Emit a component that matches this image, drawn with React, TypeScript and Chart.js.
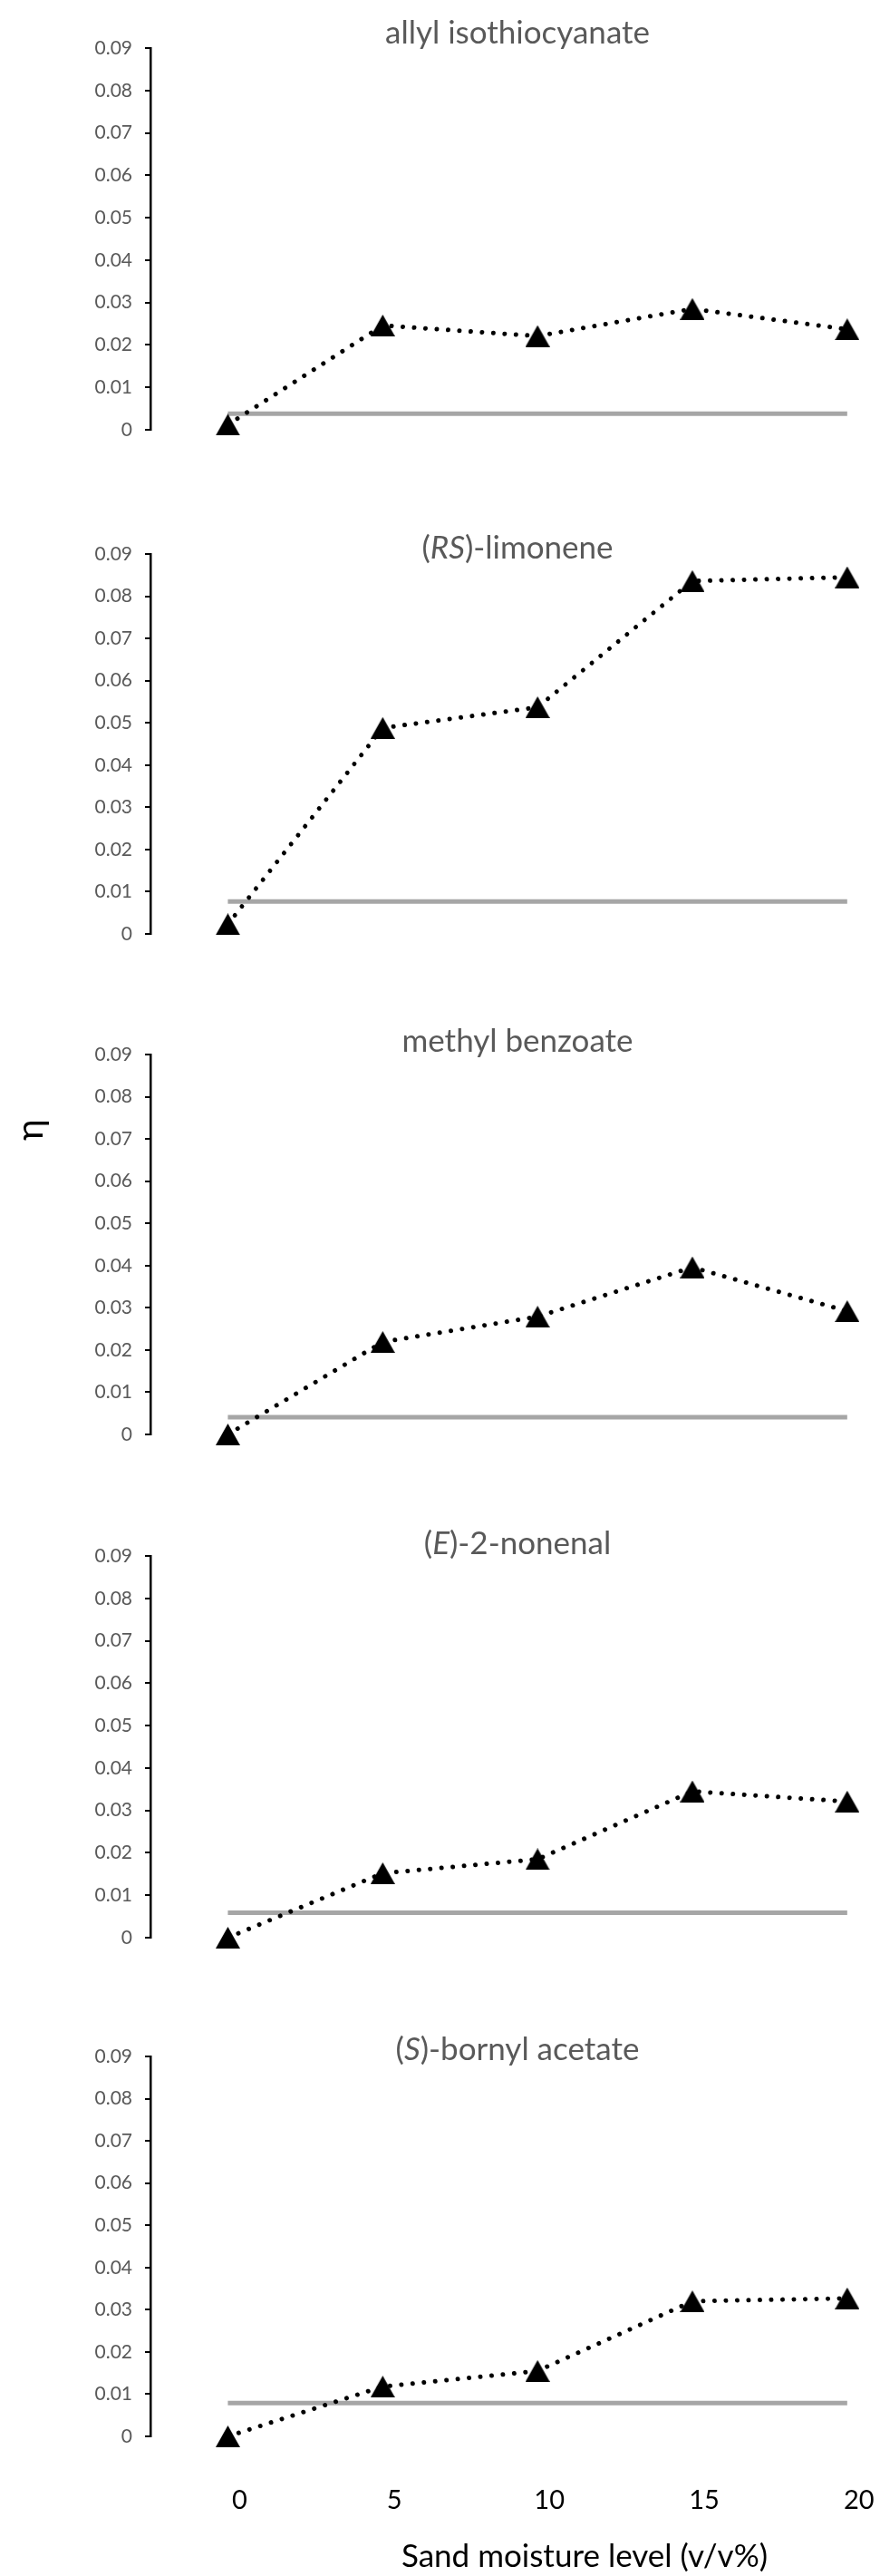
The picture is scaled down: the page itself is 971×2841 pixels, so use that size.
import React, { useEffect, useRef } from 'react';
import { Chart, registerables } from 'chart.js';

Chart.register(...registerables);

// ---------- data ----------
const moisture = [0, 5, 10, 15, 20];
const xTickValues = [0, 5, 10, 15, 20];

const allylIsothiocyanate = [0.0012, 0.0246, 0.0221, 0.0285, 0.0237];
const rsLimonene = [0.0023, 0.0488, 0.0537, 0.0836, 0.0845];
const methylBenzoate = [0.0, 0.0219, 0.0279, 0.0396, 0.0292];
const eNonenal = [0.0, 0.0152, 0.0185, 0.0345, 0.0321];
const sBornylAcetate = [0.0, 0.0118, 0.0155, 0.032, 0.0327];

const controlLevels = [0.0038, 0.0077, 0.0041, 0.0059, 0.0079];

const seriesList = [allylIsothiocyanate, rsLimonene, methylBenzoate, eNonenal, sBornylAcetate];

type Seg = { text: string; italic: boolean };
const titleAllyl: Seg[] = [{ text: 'allyl isothiocyanate', italic: false }];
const titleLimonene: Seg[] = [
  { text: '(', italic: false },
  { text: 'RS', italic: true },
  { text: ')-limonene', italic: false },
];
const titleBenzoate: Seg[] = [{ text: 'methyl benzoate', italic: false }];
const titleNonenal: Seg[] = [
  { text: '(', italic: false },
  { text: 'E', italic: true },
  { text: ')-2-nonenal', italic: false },
];
const titleBornyl: Seg[] = [
  { text: '(', italic: false },
  { text: 'S', italic: true },
  { text: ')-bornyl acetate', italic: false },
];
const titles = [titleAllyl, titleLimonene, titleBenzoate, titleNonenal, titleBornyl];

const yAxisLabel = 'η';
const xAxisLabel = 'Sand moisture level (v/v%)';

const Y_MIN = 0;
const Y_MAX = 0.09;
const Y_STEP = 0.01;
const X_MIN = -2.5;
const X_MAX = 21;

// ---------- layout ----------
const PAGE_W = 971;
const PAGE_H = 2841;
const axisTops = [53, 611, 1163, 1716, 2268];
const axisBottoms = [474, 1030, 1582, 2137, 2687];
const titleBaselines = [48, 616, 1160, 1714, 2272];
const TOP_MARGIN = 53;
const BOTTOM_MARGIN = 30;
const AXIS_LEFT = 166;
const TITLE_CX = 571;
const FONT = 'Lato, "Open Sans", sans-serif';

function makeTriangle(): HTMLCanvasElement {
  const c = document.createElement('canvas');
  c.width = 27;
  c.height = 24;
  const g = c.getContext('2d')!;
  g.fillStyle = '#000';
  g.beginPath();
  g.moveTo(0, 24);
  g.lineTo(13.5, 0);
  g.lineTo(27, 24);
  g.closePath();
  g.fill();
  return c;
}

function Panel({ i }: { i: number }) {
  const ref = useRef<HTMLCanvasElement>(null);
  const isLast = i === seriesList.length - 1;
  const canvasTop = axisTops[i] - TOP_MARGIN;
  const canvasH = isLast ? PAGE_H - canvasTop : axisBottoms[i] - canvasTop + BOTTOM_MARGIN;

  useEffect(() => {
    if (!ref.current) return;
    const tri = makeTriangle();
    const series = seriesList[i];
    const textPlugin = {
      id: 'panelText' + i,
      afterDraw(chart: any) {
        const ctx = chart.ctx as CanvasRenderingContext2D;
        ctx.save();
        const size = 35;
        const segs = titles[i];
        const widths = segs.map((s) => {
          ctx.font = `${s.italic ? 'italic ' : ''}${size}px ${FONT}`;
          return ctx.measureText(s.text).width;
        });
        const total = widths.reduce((a, b) => a + b, 0);
        let x = TITLE_CX - total / 2;
        ctx.fillStyle = '#595959';
        ctx.textBaseline = 'alphabetic';
        ctx.textAlign = 'left';
        segs.forEach((s, k) => {
          ctx.font = `${s.italic ? 'italic ' : ''}${size}px ${FONT}`;
          ctx.fillText(s.text, x, titleBaselines[i] - canvasTop);
          x += widths[k];
        });
        if (i === 2) {
          ctx.save();
          ctx.translate(34, 1246 - canvasTop);
          ctx.rotate(-Math.PI / 2);
          ctx.font = `40px ${FONT}`;
          ctx.fillStyle = '#000';
          ctx.textAlign = 'center';
          ctx.textBaseline = 'middle';
          ctx.fillText(yAxisLabel, 0, 0);
          ctx.restore();
        }
        if (isLast) {
          ctx.font = `35px ${FONT}`;
          ctx.fillStyle = '#000';
          ctx.textAlign = 'center';
          ctx.textBaseline = 'alphabetic';
          ctx.fillText(xAxisLabel, 645, 2831 - canvasTop);
        }
        ctx.restore();
      },
    };

    const chart = new Chart(ref.current, {
      type: 'line',
      data: {
        datasets: [
          {
            data: moisture.map((x, k) => ({ x, y: series[k] })),
            borderColor: '#000',
            borderWidth: 5,
            borderDash: [0.01, 12.5],
            borderCapStyle: 'round',
            pointStyle: tri as any,
            pointRadius: 12,
            pointBackgroundColor: '#000',
            pointBorderWidth: 0,
            tension: 0,
            fill: false,
            clip: false as any,
          },
          {
            data: [
              { x: moisture[0], y: controlLevels[i] },
              { x: moisture[moisture.length - 1], y: controlLevels[i] },
            ],
            borderColor: '#A6A6A6',
            borderWidth: 5,
            borderCapStyle: 'butt',
            pointRadius: 0,
            tension: 0,
            fill: false,
            clip: false as any,
          },
        ],
      },
      options: {
        responsive: false,
        animation: false,
        events: [],
        layout: {
          autoPadding: false,
          padding: { top: TOP_MARGIN, bottom: isLast ? 0 : BOTTOM_MARGIN, left: 0, right: 2 },
        },
        plugins: {
          legend: { display: false },
          tooltip: { enabled: false },
          title: { display: false },
        },
        scales: {
          x: {
            type: 'linear',
            min: X_MIN,
            max: X_MAX,
            display: isLast,
            afterBuildTicks: (s: any) => {
              s.ticks = xTickValues.map((v) => ({ value: v }));
            },
            afterFit: (s: any) => {
              if (isLast) s.height = PAGE_H - axisBottoms[i];
              s.paddingLeft = 0;
              s.paddingRight = 0;
            },
            grid: { display: false, drawTicks: false },
            border: { display: false },
            ticks: {
              font: { family: FONT, size: 29 },
              color: '#000',
              padding: 53,
              labelOffset: 13,
              maxRotation: 0,
              autoSkip: false,
            },
          },
          y: {
            type: 'linear',
            min: Y_MIN,
            max: Y_MAX,
            afterFit: (s: any) => {
              s.width = AXIS_LEFT;
            },
            ticks: {
              stepSize: Y_STEP,
              callback: (v: any) => String(Math.round(Number(v) * 100) / 100),
              font: { family: FONT, size: 21 },
              color: '#595959',
              padding: 14,
            },
            grid: {
              drawOnChartArea: false,
              drawTicks: true,
              tickLength: 6,
              color: '#000',
              lineWidth: 2,
            },
            border: { display: true, color: '#000', width: 2.5 },
          },
        },
      } as any,
      plugins: [textPlugin],
    });
    return () => chart.destroy();
  }, []);

  return (
    <canvas
      ref={ref}
      width={PAGE_W}
      height={canvasH}
      style={{ position: 'absolute', left: 0, top: canvasTop, width: PAGE_W, height: canvasH }}
    />
  );
}

export default function App() {
  return (
    <div style={{ position: 'absolute', left: 0, top: 0, width: PAGE_W, height: PAGE_H, background: '#fff' }}>
      {seriesList.map((_, i) => (
        <Panel key={i} i={i} />
      ))}
    </div>
  );
}
